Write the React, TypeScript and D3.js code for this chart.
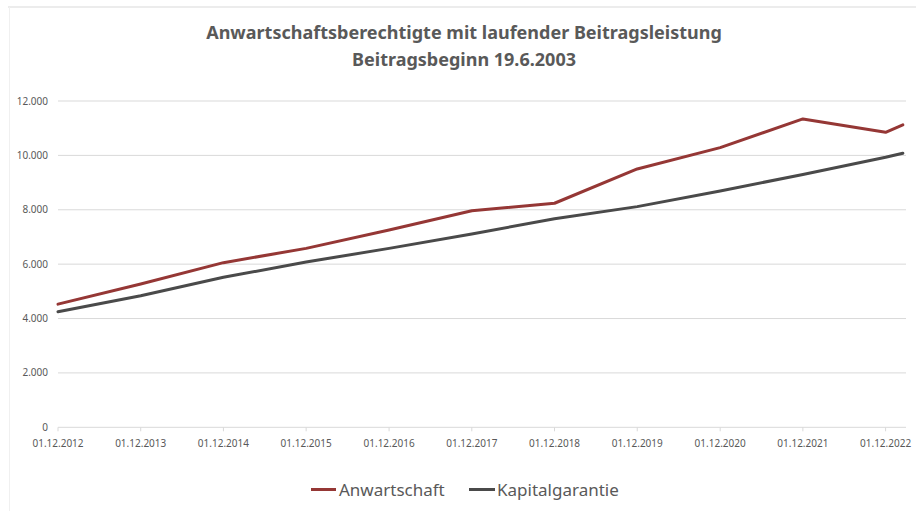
import * as d3 from 'd3';

const dates = [
  '2012-12-01', '2013-12-01', '2014-12-01', '2015-12-01', '2016-12-01', '2017-12-01',
  '2018-12-01', '2019-12-01', '2020-12-01', '2021-12-01', '2022-12-01', '2023-02-15',
];
const anwartschaft = [4530, 5270, 6055, 6580, 7255, 7965, 8240, 9500, 10285, 11340, 10850, 11120];
const kapitalgarantie = [4250, 4840, 5515, 6080, 6580, 7110, 7670, 8115, 8690, 9300, 9930, 10080];
const yTicks = [0, 2000, 4000, 6000, 8000, 10000, 12000];
const xTickYears = [2012, 2013, 2014, 2015, 2016, 2017, 2018, 2019, 2020, 2021, 2022];

const W = 916;
const H = 511;
const font = '"Noto Sans", sans-serif';
const textColor = '#595959';
const gridColor = '#d9d9d9';

const parse = d3.timeParse('%Y-%m-%d');
const fmtTick = d3.timeFormat('%d.%m.%Y');
const fmtY = (v: number) => d3.format(',')(v).replace(/,/g, '.');

export default function App() {
  const x = d3.scaleTime()
    .domain([parse('2012-12-01')!, parse('2023-03-01')!])
    .range([58, 906]);
  const y = d3.scaleLinear().domain([0, 12000]).range([427.3, 101]);

  const line = d3.line<number>()
    .x((_, i) => x(parse(dates[i])!))
    .y((d) => y(d));

  const series = [
    { name: 'Anwartschaft', values: anwartschaft, color: '#953735' },
    { name: 'Kapitalgarantie', values: kapitalgarantie, color: '#4a4a4a' },
  ];

  const xTicks = xTickYears.map((yr) => new Date(yr, 11, 1));

  return (
    <svg width={W} height={H} style={{ position: 'absolute', left: 0, top: 0, background: '#fff' }}>
      {/* chart frame */}
      <line x1={8} x2={W} y1={7} y2={7} stroke={gridColor} strokeWidth={1} />
      <line x1={9.5} x2={9.5} y1={7} y2={H} stroke="#f0f0f0" strokeWidth={1} />

      <text x={464} y={39} textAnchor="middle" fontFamily={font} fontWeight={700} fontSize={18} fill={textColor}>
        Anwartschaftsberechtigte mit laufender Beitragsleistung
      </text>
      <text x={464} y={66} textAnchor="middle" fontFamily={font} fontWeight={700} fontSize={18} fill={textColor}>
        Beitragsbeginn 19.6.2003
      </text>

      {yTicks.map((t) => (
        <g key={t}>
          <line x1={58} x2={906} y1={y(t)} y2={y(t)} stroke={gridColor} strokeWidth={1} />
          <text x={48} y={y(t) + 3.5} textAnchor="end" fontFamily={font} fontSize={10} fill={textColor}>
            {fmtY(t)}
          </text>
        </g>
      ))}

      {xTicks.map((d) => (
        <g key={+d}>
          <line x1={x(d)} x2={x(d)} y1={y(0)} y2={y(0) + 4} stroke={gridColor} />
          <text x={x(d)} y={447} textAnchor="middle" fontFamily={font} fontSize={10} fill={textColor}>
            {fmtTick(d)}
          </text>
        </g>
      ))}

      {series.map((s) => (
        <path key={s.name} d={line(s.values) ?? ''} fill="none" stroke={s.color} strokeWidth={3} strokeLinejoin="round" strokeLinecap="round" />
      ))}

      {/* legend */}
      <line x1={311} x2={336} y1={489.5} y2={489.5} stroke={series[0].color} strokeWidth={3} />
      <text x={339} y={496} fontFamily={font} fontSize={17} fill={textColor}>{series[0].name}</text>
      <line x1={469} x2={495} y1={489.5} y2={489.5} stroke={series[1].color} strokeWidth={3} />
      <text x={497} y={496} fontFamily={font} fontSize={17} fill={textColor}>{series[1].name}</text>
    </svg>
  );
}
